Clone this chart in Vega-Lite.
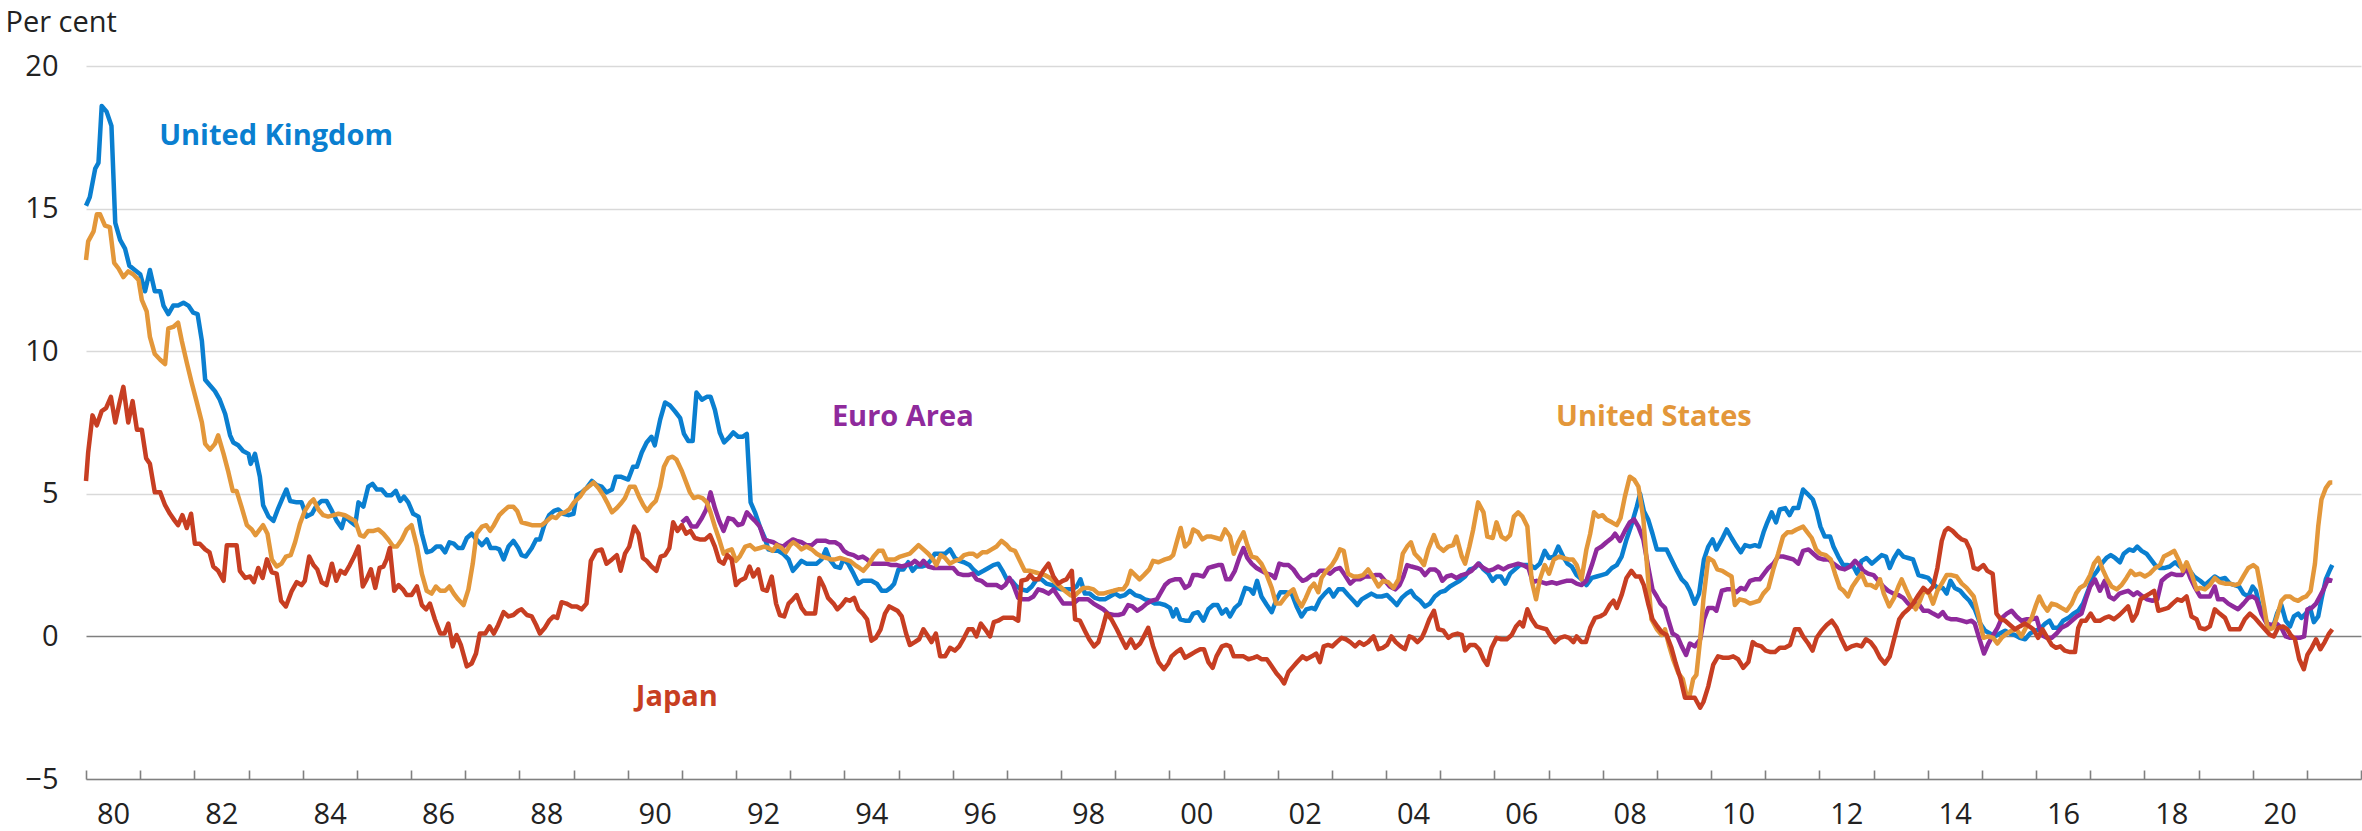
{
  "$schema": "https://vega.github.io/schema/vega-lite/v6.json",
  "width": 2275,
  "height": 713,
  "autosize": "none",
  "padding": {"left": 86, "top": 66, "right": 1, "bottom": 52},
  "background": "white",
  "config": {"view": {"stroke": null}, "font": "Open Sans"},
  "datasets": {
    "uk": [
      {"t":1980.0,"v":15.1},{"t":1980.07,"v":15.4},{"t":1980.17,"v":16.4},{"t":1980.23,"v":16.6},{"t":1980.29,"v":18.6},{"t":1980.38,"v":18.4},{"t":1980.47,"v":17.9},{"t":1980.54,"v":14.5},{"t":1980.63,"v":13.9},{"t":1980.72,"v":13.6},{"t":1980.8,"v":13.0},{"t":1980.9,"v":12.85},
      {"t":1981.0,"v":12.7},{"t":1981.09,"v":12.1},{"t":1981.18,"v":12.85},{"t":1981.27,"v":12.1},{"t":1981.37,"v":12.1},{"t":1981.43,"v":11.6},{"t":1981.52,"v":11.3},{"t":1981.61,"v":11.6},{"t":1981.7,"v":11.6},{"t":1981.8,"v":11.7},{"t":1981.89,"v":11.6},{"t":1981.98,"v":11.35},
      {"t":1982.06,"v":11.3},{"t":1982.14,"v":10.35},{"t":1982.2,"v":9.0},{"t":1982.29,"v":8.8},{"t":1982.38,"v":8.6},{"t":1982.47,"v":8.3},{"t":1982.57,"v":7.8},{"t":1982.66,"v":7.05},{"t":1982.72,"v":6.8},{"t":1982.81,"v":6.7},{"t":1982.9,"v":6.5},
      {"t":1983.0,"v":6.4},{"t":1983.04,"v":6.05},{"t":1983.12,"v":6.4},{"t":1983.21,"v":5.6},{"t":1983.27,"v":4.6},{"t":1983.37,"v":4.2},{"t":1983.46,"v":4.05},{"t":1983.55,"v":4.5},{"t":1983.64,"v":4.9},{"t":1983.7,"v":5.15},{"t":1983.77,"v":4.75},{"t":1983.89,"v":4.7},{"t":1983.98,"v":4.7},
      {"t":1984.07,"v":4.2},{"t":1984.17,"v":4.3},{"t":1984.26,"v":4.6},{"t":1984.35,"v":4.75},{"t":1984.44,"v":4.75},{"t":1984.54,"v":4.4},{"t":1984.63,"v":4.05},{"t":1984.72,"v":3.8},{"t":1984.78,"v":4.2},{"t":1984.87,"v":4.05},{"t":1984.97,"v":3.9},
      {"t":1985.03,"v":4.7},{"t":1985.12,"v":4.55},{"t":1985.21,"v":5.25},{"t":1985.29,"v":5.35},{"t":1985.37,"v":5.15},{"t":1985.46,"v":5.15},{"t":1985.55,"v":4.95},{"t":1985.64,"v":4.95},{"t":1985.72,"v":5.1},{"t":1985.8,"v":4.75},{"t":1985.87,"v":4.9},{"t":1985.95,"v":4.7},
      {"t":1986.04,"v":4.3},{"t":1986.14,"v":4.2},{"t":1986.2,"v":3.6},{"t":1986.29,"v":2.95},{"t":1986.38,"v":3.0},{"t":1986.47,"v":3.15},{"t":1986.55,"v":3.15},{"t":1986.63,"v":2.95},{"t":1986.71,"v":3.3},{"t":1986.79,"v":3.25},{"t":1986.87,"v":3.1},{"t":1986.95,"v":3.1},
      {"t":1987.03,"v":3.45},{"t":1987.12,"v":3.6},{"t":1987.21,"v":3.4},{"t":1987.31,"v":3.2},{"t":1987.4,"v":3.4},{"t":1987.47,"v":3.1},{"t":1987.57,"v":3.1},{"t":1987.63,"v":3.05},{"t":1987.71,"v":2.7},{"t":1987.8,"v":3.15},{"t":1987.89,"v":3.35},{"t":1987.98,"v":3.1},
      {"t":1988.04,"v":2.85},{"t":1988.12,"v":2.8},{"t":1988.23,"v":3.1},{"t":1988.31,"v":3.4},{"t":1988.38,"v":3.4},{"t":1988.46,"v":3.9},{"t":1988.55,"v":4.25},{"t":1988.64,"v":4.4},{"t":1988.72,"v":4.45},{"t":1988.81,"v":4.3},{"t":1988.91,"v":4.25},
      {"t":1989.0,"v":4.3},{"t":1989.06,"v":4.95},{"t":1989.15,"v":5.05},{"t":1989.24,"v":5.2},{"t":1989.34,"v":5.45},{"t":1989.43,"v":5.3},{"t":1989.52,"v":5.25},{"t":1989.61,"v":5.05},{"t":1989.71,"v":5.15},{"t":1989.78,"v":5.6},{"t":1989.87,"v":5.6},
      {"t":1990.01,"v":5.5},{"t":1990.1,"v":5.95},{"t":1990.17,"v":5.95},{"t":1990.26,"v":6.45},{"t":1990.35,"v":6.8},{"t":1990.44,"v":7.0},{"t":1990.5,"v":6.7},{"t":1990.6,"v":7.6},{"t":1990.69,"v":8.2},{"t":1990.78,"v":8.1},{"t":1990.87,"v":7.9},{"t":1990.97,"v":7.65},
      {"t":1991.04,"v":7.1},{"t":1991.12,"v":6.85},{"t":1991.2,"v":6.85},{"t":1991.27,"v":8.55},{"t":1991.37,"v":8.3},{"t":1991.46,"v":8.4},{"t":1991.53,"v":8.4},{"t":1991.61,"v":7.95},{"t":1991.7,"v":7.15},{"t":1991.78,"v":6.8},{"t":1991.86,"v":6.95},{"t":1991.95,"v":7.15},
      {"t":1992.04,"v":7.0},{"t":1992.12,"v":7.0},{"t":1992.2,"v":7.1},{"t":1992.27,"v":4.7},{"t":1992.35,"v":4.35},{"t":1992.44,"v":3.85},{"t":1992.52,"v":3.5},{"t":1992.6,"v":3.05},{"t":1992.69,"v":3.0},{"t":1992.78,"v":3.0},{"t":1992.87,"v":2.9},{"t":1992.97,"v":2.7},
      {"t":1993.05,"v":2.3},{"t":1993.12,"v":2.45},{"t":1993.21,"v":2.65},{"t":1993.3,"v":2.55},{"t":1993.4,"v":2.55},{"t":1993.49,"v":2.55},{"t":1993.58,"v":2.7},{"t":1993.66,"v":3.05},{"t":1993.73,"v":2.7},{"t":1993.83,"v":2.45},{"t":1993.92,"v":2.4},{"t":1993.98,"v":2.7},
      {"t":1994.07,"v":2.55},{"t":1994.17,"v":2.2},{"t":1994.26,"v":1.85},{"t":1994.34,"v":1.95},{"t":1994.42,"v":1.95},{"t":1994.5,"v":1.95},{"t":1994.6,"v":1.85},{"t":1994.69,"v":1.6},{"t":1994.78,"v":1.6},{"t":1994.85,"v":1.7},{"t":1994.92,"v":1.85},
      {"t":1995.0,"v":2.35},{"t":1995.09,"v":2.35},{"t":1995.18,"v":2.6},{"t":1995.26,"v":2.3},{"t":1995.33,"v":2.45},{"t":1995.43,"v":2.45},{"t":1995.52,"v":2.5},{"t":1995.61,"v":2.7},{"t":1995.67,"v":2.9},{"t":1995.77,"v":2.9},{"t":1995.86,"v":2.9},{"t":1995.95,"v":3.05},
      {"t":1996.04,"v":2.75},{"t":1996.12,"v":2.65},{"t":1996.21,"v":2.6},{"t":1996.31,"v":2.5},{"t":1996.38,"v":2.35},{"t":1996.47,"v":2.2},{"t":1996.57,"v":2.3},{"t":1996.66,"v":2.4},{"t":1996.75,"v":2.5},{"t":1996.84,"v":2.55},{"t":1996.92,"v":2.3},
      {"t":1997.0,"v":2.0},{"t":1997.09,"v":1.95},{"t":1997.18,"v":1.75},{"t":1997.27,"v":1.65},{"t":1997.37,"v":1.6},{"t":1997.46,"v":1.75},{"t":1997.55,"v":2.0},{"t":1997.64,"v":2.0},{"t":1997.73,"v":1.85},{"t":1997.83,"v":1.8},{"t":1997.92,"v":1.7},
      {"t":1998.01,"v":1.65},{"t":1998.1,"v":1.65},{"t":1998.2,"v":1.65},{"t":1998.29,"v":1.75},{"t":1998.36,"v":2.0},{"t":1998.44,"v":1.5},{"t":1998.53,"v":1.5},{"t":1998.63,"v":1.35},{"t":1998.72,"v":1.3},{"t":1998.81,"v":1.3},{"t":1998.9,"v":1.4},
      {"t":1999.0,"v":1.5},{"t":1999.09,"v":1.4},{"t":1999.18,"v":1.45},{"t":1999.27,"v":1.6},{"t":1999.37,"v":1.45},{"t":1999.46,"v":1.4},{"t":1999.55,"v":1.3},{"t":1999.64,"v":1.25},{"t":1999.73,"v":1.15},{"t":1999.83,"v":1.15},{"t":1999.92,"v":1.1},
      {"t":2000.01,"v":1.0},{"t":2000.07,"v":0.7},{"t":2000.13,"v":0.95},{"t":2000.2,"v":0.6},{"t":2000.29,"v":0.55},{"t":2000.37,"v":0.55},{"t":2000.44,"v":0.8},{"t":2000.53,"v":0.85},{"t":2000.63,"v":0.55},{"t":2000.72,"v":0.95},{"t":2000.81,"v":1.1},{"t":2000.89,"v":1.1},{"t":2000.97,"v":0.8},
      {"t":2001.05,"v":0.95},{"t":2001.12,"v":0.7},{"t":2001.21,"v":1.0},{"t":2001.3,"v":1.15},{"t":2001.4,"v":1.7},{"t":2001.49,"v":1.65},{"t":2001.55,"v":1.5},{"t":2001.62,"v":1.95},{"t":2001.7,"v":1.4},{"t":2001.8,"v":1.1},{"t":2001.89,"v":0.85},{"t":2001.98,"v":1.3},
      {"t":2002.05,"v":1.55},{"t":2002.15,"v":1.55},{"t":2002.26,"v":1.5},{"t":2002.35,"v":1.05},{"t":2002.44,"v":0.7},{"t":2002.53,"v":0.95},{"t":2002.63,"v":1.0},{"t":2002.69,"v":0.95},{"t":2002.78,"v":1.3},{"t":2002.87,"v":1.5},{"t":2002.95,"v":1.65},
      {"t":2003.03,"v":1.4},{"t":2003.12,"v":1.65},{"t":2003.21,"v":1.65},{"t":2003.3,"v":1.45},{"t":2003.4,"v":1.25},{"t":2003.47,"v":1.1},{"t":2003.55,"v":1.3},{"t":2003.64,"v":1.4},{"t":2003.73,"v":1.5},{"t":2003.83,"v":1.4},{"t":2003.92,"v":1.4},
      {"t":2004.02,"v":1.45},{"t":2004.1,"v":1.3},{"t":2004.2,"v":1.1},{"t":2004.29,"v":1.35},{"t":2004.38,"v":1.5},{"t":2004.46,"v":1.6},{"t":2004.53,"v":1.4},{"t":2004.63,"v":1.25},{"t":2004.72,"v":1.05},{"t":2004.81,"v":1.15},{"t":2004.9,"v":1.4},
      {"t":2005.0,"v":1.55},{"t":2005.09,"v":1.6},{"t":2005.18,"v":1.75},{"t":2005.27,"v":1.85},{"t":2005.36,"v":1.95},{"t":2005.46,"v":2.1},{"t":2005.55,"v":2.35},{"t":2005.64,"v":2.4},{"t":2005.72,"v":2.55},{"t":2005.8,"v":2.35},{"t":2005.89,"v":2.2},{"t":2005.97,"v":1.95},
      {"t":2006.04,"v":2.1},{"t":2006.12,"v":2.1},{"t":2006.2,"v":1.85},{"t":2006.29,"v":2.2},{"t":2006.38,"v":2.35},{"t":2006.47,"v":2.5},{"t":2006.57,"v":2.5},{"t":2006.66,"v":2.5},{"t":2006.75,"v":2.4},{"t":2006.84,"v":2.55},{"t":2006.93,"v":3.0},
      {"t":2007.01,"v":2.75},{"t":2007.1,"v":2.8},{"t":2007.18,"v":3.15},{"t":2007.27,"v":2.8},{"t":2007.35,"v":2.55},{"t":2007.43,"v":2.45},{"t":2007.52,"v":2.15},{"t":2007.61,"v":2.0},{"t":2007.7,"v":1.8},{"t":2007.8,"v":2.05},{"t":2007.89,"v":2.1},{"t":2007.98,"v":2.15},
      {"t":2008.07,"v":2.2},{"t":2008.17,"v":2.4},{"t":2008.26,"v":2.5},{"t":2008.35,"v":2.8},{"t":2008.44,"v":3.4},{"t":2008.53,"v":3.9},{"t":2008.63,"v":4.55},{"t":2008.69,"v":5.0},{"t":2008.76,"v":4.4},{"t":2008.84,"v":4.1},{"t":2008.92,"v":3.6},
      {"t":2009.0,"v":3.05},{"t":2009.09,"v":3.05},{"t":2009.18,"v":3.05},{"t":2009.27,"v":2.7},{"t":2009.36,"v":2.35},{"t":2009.46,"v":2.0},{"t":2009.54,"v":1.85},{"t":2009.61,"v":1.6},{"t":2009.7,"v":1.15},{"t":2009.78,"v":1.5},{"t":2009.87,"v":2.7},{"t":2009.95,"v":3.15},
      {"t":2010.03,"v":3.4},{"t":2010.1,"v":3.05},{"t":2010.2,"v":3.4},{"t":2010.29,"v":3.75},{"t":2010.38,"v":3.45},{"t":2010.46,"v":3.2},{"t":2010.55,"v":2.95},{"t":2010.63,"v":3.2},{"t":2010.72,"v":3.15},{"t":2010.81,"v":3.2},{"t":2010.89,"v":3.15},{"t":2010.97,"v":3.65},
      {"t":2011.04,"v":4.0},{"t":2011.12,"v":4.35},{"t":2011.2,"v":4.0},{"t":2011.27,"v":4.45},{"t":2011.37,"v":4.5},{"t":2011.45,"v":4.25},{"t":2011.52,"v":4.5},{"t":2011.61,"v":4.5},{"t":2011.7,"v":5.15},{"t":2011.78,"v":5.0},{"t":2011.88,"v":4.8},{"t":2011.95,"v":4.4},
      {"t":2012.02,"v":3.85},{"t":2012.1,"v":3.5},{"t":2012.2,"v":3.5},{"t":2012.26,"v":3.15},{"t":2012.35,"v":2.8},{"t":2012.44,"v":2.5},{"t":2012.53,"v":2.5},{"t":2012.63,"v":2.45},{"t":2012.7,"v":2.2},{"t":2012.78,"v":2.65},{"t":2012.87,"v":2.75},{"t":2012.97,"v":2.55},
      {"t":2013.06,"v":2.7},{"t":2013.15,"v":2.85},{"t":2013.23,"v":2.8},{"t":2013.3,"v":2.4},{"t":2013.38,"v":2.75},{"t":2013.46,"v":3.0},{"t":2013.55,"v":2.8},{"t":2013.64,"v":2.75},{"t":2013.73,"v":2.7},{"t":2013.83,"v":2.15},{"t":2013.92,"v":2.1},
      {"t":2014.01,"v":2.05},{"t":2014.1,"v":1.85},{"t":2014.18,"v":1.7},{"t":2014.28,"v":1.7},{"t":2014.35,"v":1.5},{"t":2014.42,"v":1.95},{"t":2014.5,"v":1.7},{"t":2014.6,"v":1.6},{"t":2014.69,"v":1.4},{"t":2014.77,"v":1.25},{"t":2014.87,"v":0.95},{"t":2014.97,"v":0.45},
      {"t":2015.06,"v":0.2},{"t":2015.15,"v":0.1},{"t":2015.24,"v":0.0},{"t":2015.33,"v":0.1},{"t":2015.43,"v":0.2},{"t":2015.52,"v":0.1},{"t":2015.61,"v":0.05},{"t":2015.7,"v":-0.05},{"t":2015.8,"v":-0.1},{"t":2015.89,"v":0.1},{"t":2015.98,"v":0.2},
      {"t":2016.07,"v":0.25},{"t":2016.17,"v":0.45},{"t":2016.25,"v":0.55},{"t":2016.32,"v":0.3},{"t":2016.41,"v":0.3},{"t":2016.5,"v":0.55},{"t":2016.6,"v":0.65},{"t":2016.69,"v":0.8},{"t":2016.78,"v":0.9},{"t":2016.87,"v":1.15},{"t":2016.97,"v":1.65},
      {"t":2017.05,"v":2.1},{"t":2017.13,"v":2.3},{"t":2017.21,"v":2.55},{"t":2017.3,"v":2.75},{"t":2017.38,"v":2.85},{"t":2017.46,"v":2.75},{"t":2017.55,"v":2.6},{"t":2017.62,"v":2.9},{"t":2017.72,"v":3.05},{"t":2017.8,"v":3.0},{"t":2017.87,"v":3.15},{"t":2017.95,"v":3.0},
      {"t":2018.04,"v":2.9},{"t":2018.12,"v":2.7},{"t":2018.2,"v":2.5},{"t":2018.29,"v":2.4},{"t":2018.38,"v":2.4},{"t":2018.47,"v":2.45},{"t":2018.57,"v":2.6},{"t":2018.66,"v":2.45},{"t":2018.75,"v":2.4},{"t":2018.84,"v":2.3},{"t":2018.92,"v":2.1},
      {"t":2019.03,"v":1.95},{"t":2019.12,"v":1.8},{"t":2019.21,"v":1.95},{"t":2019.3,"v":2.1},{"t":2019.39,"v":2.0},{"t":2019.49,"v":2.05},{"t":2019.58,"v":1.85},{"t":2019.67,"v":1.8},{"t":2019.75,"v":1.75},{"t":2019.83,"v":1.5},{"t":2019.92,"v":1.4},
      {"t":2020.0,"v":1.75},{"t":2020.06,"v":1.6},{"t":2020.13,"v":1.05},{"t":2020.21,"v":0.7},{"t":2020.29,"v":0.4},{"t":2020.38,"v":0.35},{"t":2020.45,"v":0.8},{"t":2020.53,"v":1.1},{"t":2020.61,"v":0.55},{"t":2020.69,"v":0.35},{"t":2020.76,"v":0.7},{"t":2020.84,"v":0.8},{"t":2020.9,"v":0.65},{"t":2020.98,"v":0.8},
      {"t":2021.06,"v":1.0},{"t":2021.13,"v":0.5},{"t":2021.21,"v":0.7},{"t":2021.27,"v":1.3},{"t":2021.35,"v":2.0},{"t":2021.43,"v":2.35},{"t":2021.47,"v":2.5}
    ],
    "ea": [
      {"t":1991.0,"v":4.0},{"t":1991.09,"v":4.15},{"t":1991.18,"v":3.85},{"t":1991.27,"v":3.85},{"t":1991.37,"v":4.15},{"t":1991.45,"v":4.45},{"t":1991.53,"v":5.05},{"t":1991.61,"v":4.5},{"t":1991.69,"v":4.05},{"t":1991.77,"v":3.7},{"t":1991.86,"v":4.15},{"t":1991.95,"v":4.1},
      {"t":1992.04,"v":3.9},{"t":1992.12,"v":3.95},{"t":1992.2,"v":4.35},{"t":1992.27,"v":4.2},{"t":1992.35,"v":4.05},{"t":1992.44,"v":3.85},{"t":1992.52,"v":3.4},{"t":1992.6,"v":3.35},{"t":1992.69,"v":3.3},{"t":1992.78,"v":3.2},{"t":1992.87,"v":3.15},{"t":1992.97,"v":3.3},
      {"t":1993.05,"v":3.4},{"t":1993.12,"v":3.35},{"t":1993.21,"v":3.3},{"t":1993.3,"v":3.2},{"t":1993.4,"v":3.2},{"t":1993.49,"v":3.35},{"t":1993.58,"v":3.35},{"t":1993.66,"v":3.35},{"t":1993.73,"v":3.3},{"t":1993.83,"v":3.3},{"t":1993.92,"v":3.2},{"t":1993.99,"v":3.0},
      {"t":1994.07,"v":2.9},{"t":1994.17,"v":2.85},{"t":1994.26,"v":2.75},{"t":1994.34,"v":2.8},{"t":1994.42,"v":2.7},{"t":1994.5,"v":2.55},{"t":1994.6,"v":2.55},{"t":1994.69,"v":2.55},{"t":1994.78,"v":2.55},{"t":1994.87,"v":2.5},{"t":1994.97,"v":2.5},
      {"t":1995.06,"v":2.45},{"t":1995.15,"v":2.5},{"t":1995.24,"v":2.55},{"t":1995.3,"v":2.65},{"t":1995.4,"v":2.5},{"t":1995.46,"v":2.65},{"t":1995.55,"v":2.45},{"t":1995.64,"v":2.4},{"t":1995.73,"v":2.4},{"t":1995.83,"v":2.4},{"t":1995.92,"v":2.4},
      {"t":1996.01,"v":2.4},{"t":1996.1,"v":2.2},{"t":1996.2,"v":2.15},{"t":1996.29,"v":2.15},{"t":1996.37,"v":2.2},{"t":1996.44,"v":2.0},{"t":1996.53,"v":1.95},{"t":1996.63,"v":1.8},{"t":1996.72,"v":1.8},{"t":1996.81,"v":1.8},{"t":1996.9,"v":1.7},{"t":1996.97,"v":1.8},
      {"t":1997.05,"v":2.05},{"t":1997.12,"v":1.8},{"t":1997.21,"v":1.35},{"t":1997.3,"v":1.3},{"t":1997.4,"v":1.3},{"t":1997.49,"v":1.4},{"t":1997.58,"v":1.65},{"t":1997.67,"v":1.6},{"t":1997.77,"v":1.5},{"t":1997.86,"v":1.65},{"t":1997.95,"v":1.4},
      {"t":1998.04,"v":1.15},{"t":1998.13,"v":1.15},{"t":1998.23,"v":1.15},{"t":1998.32,"v":1.3},{"t":1998.41,"v":1.3},{"t":1998.5,"v":1.3},{"t":1998.6,"v":1.15},{"t":1998.69,"v":1.05},{"t":1998.78,"v":0.95},{"t":1998.87,"v":0.8},{"t":1998.97,"v":0.75},
      {"t":1999.06,"v":0.75},{"t":1999.15,"v":0.8},{"t":1999.24,"v":1.1},{"t":1999.32,"v":1.05},{"t":1999.41,"v":0.9},{"t":1999.49,"v":1.0},{"t":1999.58,"v":1.15},{"t":1999.67,"v":1.25},{"t":1999.77,"v":1.3},{"t":1999.83,"v":1.5},{"t":1999.92,"v":1.8},
      {"t":2000.01,"v":1.95},{"t":2000.1,"v":2.0},{"t":2000.2,"v":2.0},{"t":2000.29,"v":1.7},{"t":2000.37,"v":1.8},{"t":2000.44,"v":2.15},{"t":2000.53,"v":2.15},{"t":2000.63,"v":2.1},{"t":2000.72,"v":2.4},{"t":2000.81,"v":2.45},{"t":2000.9,"v":2.5},{"t":2000.97,"v":2.5},
      {"t":2001.05,"v":2.0},{"t":2001.12,"v":2.0},{"t":2001.21,"v":2.3},{"t":2001.3,"v":2.8},{"t":2001.37,"v":3.1},{"t":2001.44,"v":2.75},{"t":2001.52,"v":2.55},{"t":2001.61,"v":2.4},{"t":2001.7,"v":2.3},{"t":2001.8,"v":2.2},{"t":2001.89,"v":2.15},{"t":2001.95,"v":2.05},
      {"t":2002.03,"v":2.55},{"t":2002.12,"v":2.5},{"t":2002.2,"v":2.5},{"t":2002.29,"v":2.35},{"t":2002.38,"v":2.1},{"t":2002.46,"v":1.95},{"t":2002.53,"v":2.0},{"t":2002.63,"v":2.15},{"t":2002.71,"v":2.15},{"t":2002.78,"v":2.3},{"t":2002.87,"v":2.3},{"t":2002.97,"v":2.2},
      {"t":2003.06,"v":2.35},{"t":2003.15,"v":2.4},{"t":2003.24,"v":2.15},{"t":2003.34,"v":1.85},{"t":2003.43,"v":2.0},{"t":2003.52,"v":2.0},{"t":2003.61,"v":2.1},{"t":2003.7,"v":2.1},{"t":2003.8,"v":2.15},{"t":2003.89,"v":2.15},{"t":2003.98,"v":1.95},
      {"t":2004.07,"v":1.75},{"t":2004.17,"v":1.65},{"t":2004.25,"v":1.8},{"t":2004.32,"v":2.1},{"t":2004.39,"v":2.5},{"t":2004.47,"v":2.45},{"t":2004.57,"v":2.4},{"t":2004.64,"v":2.35},{"t":2004.72,"v":2.15},{"t":2004.81,"v":2.35},{"t":2004.9,"v":2.35},{"t":2004.97,"v":2.25},
      {"t":2005.04,"v":1.95},{"t":2005.12,"v":2.1},{"t":2005.21,"v":2.15},{"t":2005.3,"v":2.05},{"t":2005.4,"v":2.15},{"t":2005.49,"v":2.2},{"t":2005.58,"v":2.3},{"t":2005.7,"v":2.55},{"t":2005.8,"v":2.4},{"t":2005.89,"v":2.3},{"t":2005.98,"v":2.35},
      {"t":2006.07,"v":2.45},{"t":2006.17,"v":2.35},{"t":2006.26,"v":2.45},{"t":2006.35,"v":2.5},{"t":2006.44,"v":2.55},{"t":2006.53,"v":2.5},{"t":2006.63,"v":2.4},{"t":2006.71,"v":1.9},{"t":2006.78,"v":1.95},{"t":2006.87,"v":1.9},{"t":2006.96,"v":1.85},
      {"t":2007.06,"v":1.9},{"t":2007.15,"v":1.85},{"t":2007.24,"v":1.9},{"t":2007.33,"v":1.95},{"t":2007.43,"v":1.95},{"t":2007.52,"v":1.85},{"t":2007.61,"v":1.8},{"t":2007.7,"v":1.95},{"t":2007.8,"v":2.5},{"t":2007.89,"v":3.05},{"t":2007.98,"v":3.15},
      {"t":2008.07,"v":3.3},{"t":2008.17,"v":3.45},{"t":2008.23,"v":3.6},{"t":2008.32,"v":3.35},{"t":2008.41,"v":3.7},{"t":2008.5,"v":4.0},{"t":2008.58,"v":4.1},{"t":2008.66,"v":3.85},{"t":2008.75,"v":3.4},{"t":2008.84,"v":2.45},{"t":2008.92,"v":1.65},
      {"t":2009.0,"v":1.4},{"t":2009.07,"v":1.15},{"t":2009.15,"v":1.0},{"t":2009.21,"v":0.6},{"t":2009.29,"v":0.1},{"t":2009.38,"v":0.0},{"t":2009.46,"v":-0.35},{"t":2009.54,"v":-0.65},{"t":2009.61,"v":-0.25},{"t":2009.7,"v":-0.35},{"t":2009.8,"v":-0.1},{"t":2009.87,"v":0.6},{"t":2009.95,"v":1.0},
      {"t":2010.04,"v":1.0},{"t":2010.1,"v":0.9},{"t":2010.2,"v":1.6},{"t":2010.29,"v":1.65},{"t":2010.38,"v":1.65},{"t":2010.47,"v":1.55},{"t":2010.55,"v":1.7},{"t":2010.63,"v":1.65},{"t":2010.72,"v":1.95},{"t":2010.81,"v":2.0},{"t":2010.9,"v":2.0},{"t":2010.98,"v":2.2},
      {"t":2011.06,"v":2.4},{"t":2011.15,"v":2.55},{"t":2011.24,"v":2.8},{"t":2011.33,"v":2.8},{"t":2011.43,"v":2.75},{"t":2011.52,"v":2.7},{"t":2011.61,"v":2.55},{"t":2011.7,"v":3.0},{"t":2011.8,"v":3.05},{"t":2011.89,"v":2.9},{"t":2011.98,"v":2.75},
      {"t":2012.07,"v":2.7},{"t":2012.17,"v":2.7},{"t":2012.26,"v":2.55},{"t":2012.37,"v":2.4},{"t":2012.47,"v":2.35},{"t":2012.57,"v":2.45},{"t":2012.66,"v":2.65},{"t":2012.74,"v":2.5},{"t":2012.81,"v":2.3},{"t":2012.9,"v":2.2},
      {"t":2013.0,"v":2.15},{"t":2013.09,"v":1.95},{"t":2013.18,"v":1.75},{"t":2013.27,"v":1.6},{"t":2013.37,"v":1.5},{"t":2013.46,"v":1.45},{"t":2013.55,"v":1.35},{"t":2013.64,"v":1.15},{"t":2013.73,"v":1.05},{"t":2013.83,"v":1.15},{"t":2013.92,"v":0.9},
      {"t":2014.01,"v":0.9},{"t":2014.1,"v":0.8},{"t":2014.2,"v":0.7},{"t":2014.28,"v":0.85},{"t":2014.35,"v":0.65},{"t":2014.44,"v":0.6},{"t":2014.54,"v":0.6},{"t":2014.63,"v":0.55},{"t":2014.72,"v":0.5},{"t":2014.81,"v":0.55},{"t":2014.87,"v":0.45},{"t":2014.95,"v":-0.05},
      {"t":2015.04,"v":-0.6},{"t":2015.12,"v":-0.25},{"t":2015.21,"v":0.05},{"t":2015.29,"v":0.3},{"t":2015.37,"v":0.65},{"t":2015.46,"v":0.8},{"t":2015.55,"v":0.9},{"t":2015.64,"v":0.7},{"t":2015.73,"v":0.55},{"t":2015.83,"v":0.6},{"t":2015.92,"v":0.6},
      {"t":2016.01,"v":0.65},{"t":2016.1,"v":0.05},{"t":2016.2,"v":-0.05},{"t":2016.29,"v":-0.05},{"t":2016.38,"v":0.1},{"t":2016.47,"v":0.3},{"t":2016.57,"v":0.4},{"t":2016.66,"v":0.55},{"t":2016.75,"v":0.7},{"t":2016.84,"v":0.8},{"t":2016.92,"v":1.3},
      {"t":2017.0,"v":1.75},{"t":2017.09,"v":2.0},{"t":2017.18,"v":1.6},{"t":2017.27,"v":1.95},{"t":2017.35,"v":1.4},{"t":2017.44,"v":1.3},{"t":2017.54,"v":1.5},{"t":2017.62,"v":1.55},{"t":2017.7,"v":1.6},{"t":2017.8,"v":1.45},{"t":2017.87,"v":1.55},{"t":2017.97,"v":1.4},
      {"t":2018.05,"v":1.3},{"t":2018.15,"v":1.25},{"t":2018.24,"v":1.3},{"t":2018.32,"v":1.95},{"t":2018.41,"v":2.1},{"t":2018.5,"v":2.2},{"t":2018.6,"v":2.15},{"t":2018.69,"v":2.15},{"t":2018.78,"v":2.4},{"t":2018.85,"v":2.05},{"t":2018.94,"v":1.7},
      {"t":2019.03,"v":1.4},{"t":2019.12,"v":1.4},{"t":2019.21,"v":1.4},{"t":2019.3,"v":1.75},{"t":2019.36,"v":1.3},{"t":2019.46,"v":1.3},{"t":2019.55,"v":1.15},{"t":2019.64,"v":1.05},{"t":2019.73,"v":0.95},{"t":2019.83,"v":1.15},{"t":2019.92,"v":1.35},
      {"t":2020.0,"v":1.4},{"t":2020.07,"v":1.3},{"t":2020.16,"v":0.8},{"t":2020.26,"v":0.45},{"t":2020.35,"v":0.4},{"t":2020.44,"v":0.45},{"t":2020.53,"v":0.3},{"t":2020.61,"v":0.0},{"t":2020.69,"v":-0.05},{"t":2020.78,"v":-0.05},{"t":2020.87,"v":-0.05},{"t":2020.95,"v":0.0},
      {"t":2021.01,"v":0.95},{"t":2021.09,"v":1.0},{"t":2021.17,"v":1.15},{"t":2021.24,"v":1.4},{"t":2021.31,"v":1.65},{"t":2021.39,"v":2.0},{"t":2021.47,"v":1.95}
    ],
    "us": [
      {"t":1980.0,"v":13.2},{"t":1980.04,"v":13.85},{"t":1980.14,"v":14.2},{"t":1980.2,"v":14.8},{"t":1980.26,"v":14.8},{"t":1980.35,"v":14.4},{"t":1980.44,"v":14.35},{"t":1980.52,"v":13.1},{"t":1980.6,"v":12.9},{"t":1980.69,"v":12.6},{"t":1980.78,"v":12.8},{"t":1980.87,"v":12.7},{"t":1980.97,"v":12.5},
      {"t":1981.03,"v":11.8},{"t":1981.12,"v":11.4},{"t":1981.18,"v":10.5},{"t":1981.27,"v":9.9},{"t":1981.37,"v":9.7},{"t":1981.46,"v":9.55},{"t":1981.52,"v":10.8},{"t":1981.61,"v":10.85},{"t":1981.7,"v":11.0},{"t":1981.77,"v":10.35},{"t":1981.86,"v":9.6},{"t":1981.95,"v":8.9},
      {"t":1982.04,"v":8.25},{"t":1982.14,"v":7.5},{"t":1982.2,"v":6.75},{"t":1982.29,"v":6.55},{"t":1982.38,"v":6.75},{"t":1982.44,"v":7.05},{"t":1982.54,"v":6.4},{"t":1982.63,"v":5.75},{"t":1982.71,"v":5.1},{"t":1982.78,"v":5.1},{"t":1982.87,"v":4.55},{"t":1982.97,"v":3.9},
      {"t":1983.06,"v":3.75},{"t":1983.13,"v":3.55},{"t":1983.21,"v":3.75},{"t":1983.27,"v":3.9},{"t":1983.35,"v":3.6},{"t":1983.43,"v":2.7},{"t":1983.52,"v":2.45},{"t":1983.61,"v":2.55},{"t":1983.69,"v":2.8},{"t":1983.78,"v":2.85},{"t":1983.86,"v":3.3},{"t":1983.95,"v":3.95},
      {"t":1984.04,"v":4.4},{"t":1984.14,"v":4.7},{"t":1984.2,"v":4.8},{"t":1984.29,"v":4.45},{"t":1984.38,"v":4.25},{"t":1984.47,"v":4.2},{"t":1984.57,"v":4.25},{"t":1984.66,"v":4.3},{"t":1984.78,"v":4.25},{"t":1984.87,"v":4.15},{"t":1984.97,"v":4.05},
      {"t":1985.06,"v":3.55},{"t":1985.13,"v":3.5},{"t":1985.21,"v":3.7},{"t":1985.31,"v":3.7},{"t":1985.4,"v":3.75},{"t":1985.49,"v":3.6},{"t":1985.58,"v":3.4},{"t":1985.67,"v":3.15},{"t":1985.74,"v":3.15},{"t":1985.83,"v":3.4},{"t":1985.92,"v":3.75},
      {"t":1986.01,"v":3.9},{"t":1986.11,"v":3.15},{"t":1986.2,"v":2.2},{"t":1986.29,"v":1.6},{"t":1986.38,"v":1.5},{"t":1986.46,"v":1.75},{"t":1986.54,"v":1.6},{"t":1986.63,"v":1.6},{"t":1986.71,"v":1.75},{"t":1986.79,"v":1.5},{"t":1986.87,"v":1.3},{"t":1986.97,"v":1.1},
      {"t":1987.06,"v":1.65},{"t":1987.14,"v":2.55},{"t":1987.21,"v":3.6},{"t":1987.31,"v":3.85},{"t":1987.39,"v":3.9},{"t":1987.46,"v":3.7},{"t":1987.53,"v":3.9},{"t":1987.63,"v":4.25},{"t":1987.71,"v":4.4},{"t":1987.8,"v":4.55},{"t":1987.89,"v":4.55},{"t":1987.96,"v":4.4},
      {"t":1988.04,"v":4.0},{"t":1988.14,"v":3.95},{"t":1988.23,"v":3.9},{"t":1988.32,"v":3.9},{"t":1988.41,"v":3.9},{"t":1988.51,"v":4.05},{"t":1988.6,"v":4.2},{"t":1988.68,"v":4.15},{"t":1988.75,"v":4.3},{"t":1988.84,"v":4.35},{"t":1988.92,"v":4.45},
      {"t":1989.01,"v":4.7},{"t":1989.12,"v":4.9},{"t":1989.21,"v":5.15},{"t":1989.31,"v":5.3},{"t":1989.37,"v":5.4},{"t":1989.46,"v":5.2},{"t":1989.55,"v":4.95},{"t":1989.62,"v":4.7},{"t":1989.71,"v":4.35},{"t":1989.8,"v":4.5},{"t":1989.87,"v":4.65},{"t":1989.95,"v":4.85},
      {"t":1990.04,"v":5.25},{"t":1990.13,"v":5.25},{"t":1990.21,"v":4.9},{"t":1990.29,"v":4.6},{"t":1990.36,"v":4.4},{"t":1990.44,"v":4.6},{"t":1990.52,"v":4.75},{"t":1990.6,"v":5.25},{"t":1990.67,"v":5.95},{"t":1990.75,"v":6.25},{"t":1990.83,"v":6.3},{"t":1990.9,"v":6.2},
      {"t":1991.0,"v":5.8},{"t":1991.08,"v":5.4},{"t":1991.15,"v":5.05},{"t":1991.22,"v":4.85},{"t":1991.3,"v":4.9},{"t":1991.38,"v":4.85},{"t":1991.46,"v":4.7},{"t":1991.53,"v":4.35},{"t":1991.61,"v":3.85},{"t":1991.69,"v":3.4},{"t":1991.77,"v":2.9},{"t":1991.84,"v":3.0},{"t":1991.92,"v":3.05},
      {"t":1992.0,"v":2.65},{"t":1992.07,"v":2.8},{"t":1992.17,"v":3.15},{"t":1992.26,"v":3.2},{"t":1992.35,"v":3.05},{"t":1992.44,"v":3.1},{"t":1992.52,"v":3.15},{"t":1992.6,"v":3.1},{"t":1992.68,"v":3.0},{"t":1992.75,"v":3.2},{"t":1992.84,"v":3.1},{"t":1992.92,"v":2.95},
      {"t":1993.0,"v":3.2},{"t":1993.06,"v":3.3},{"t":1993.13,"v":3.2},{"t":1993.21,"v":3.05},{"t":1993.3,"v":3.15},{"t":1993.4,"v":3.05},{"t":1993.49,"v":2.9},{"t":1993.58,"v":2.8},{"t":1993.67,"v":2.75},{"t":1993.75,"v":2.7},{"t":1993.83,"v":2.7},{"t":1993.92,"v":2.75},
      {"t":1994.01,"v":2.7},{"t":1994.1,"v":2.65},{"t":1994.2,"v":2.5},{"t":1994.28,"v":2.4},{"t":1994.35,"v":2.3},{"t":1994.44,"v":2.5},{"t":1994.54,"v":2.8},{"t":1994.63,"v":3.0},{"t":1994.71,"v":3.0},{"t":1994.78,"v":2.7},{"t":1994.87,"v":2.7},{"t":1994.93,"v":2.7},
      {"t":1995.03,"v":2.8},{"t":1995.12,"v":2.85},{"t":1995.21,"v":2.9},{"t":1995.29,"v":3.05},{"t":1995.37,"v":3.2},{"t":1995.46,"v":3.05},{"t":1995.55,"v":2.9},{"t":1995.64,"v":2.7},{"t":1995.7,"v":2.5},{"t":1995.78,"v":2.85},{"t":1995.86,"v":2.75},{"t":1995.95,"v":2.55},
      {"t":1996.04,"v":2.65},{"t":1996.13,"v":2.7},{"t":1996.21,"v":2.85},{"t":1996.31,"v":2.9},{"t":1996.38,"v":2.9},{"t":1996.45,"v":2.8},{"t":1996.55,"v":2.95},{"t":1996.63,"v":2.95},{"t":1996.72,"v":3.05},{"t":1996.81,"v":3.15},{"t":1996.9,"v":3.35},
      {"t":1997.0,"v":3.2},{"t":1997.07,"v":3.05},{"t":1997.15,"v":3.0},{"t":1997.24,"v":2.65},{"t":1997.33,"v":2.3},{"t":1997.43,"v":2.3},{"t":1997.52,"v":2.25},{"t":1997.61,"v":2.2},{"t":1997.7,"v":2.15},{"t":1997.8,"v":2.05},{"t":1997.89,"v":1.9},{"t":1997.98,"v":1.75},
      {"t":1998.07,"v":1.6},{"t":1998.17,"v":1.45},{"t":1998.24,"v":1.4},{"t":1998.32,"v":1.55},{"t":1998.41,"v":1.7},{"t":1998.5,"v":1.7},{"t":1998.6,"v":1.65},{"t":1998.69,"v":1.5},{"t":1998.78,"v":1.5},{"t":1998.87,"v":1.55},{"t":1998.97,"v":1.6},
      {"t":1999.06,"v":1.65},{"t":1999.15,"v":1.65},{"t":1999.22,"v":1.85},{"t":1999.29,"v":2.3},{"t":1999.37,"v":2.15},{"t":1999.45,"v":2.0},{"t":1999.53,"v":2.15},{"t":1999.63,"v":2.35},{"t":1999.7,"v":2.65},{"t":1999.8,"v":2.6},{"t":1999.92,"v":2.7},
      {"t":2000.01,"v":2.75},{"t":2000.07,"v":2.85},{"t":2000.15,"v":3.4},{"t":2000.21,"v":3.8},{"t":2000.29,"v":3.15},{"t":2000.37,"v":3.3},{"t":2000.44,"v":3.75},{"t":2000.53,"v":3.65},{"t":2000.61,"v":3.4},{"t":2000.69,"v":3.5},{"t":2000.78,"v":3.5},{"t":2000.87,"v":3.45},{"t":2000.95,"v":3.4},
      {"t":2001.03,"v":3.75},{"t":2001.12,"v":3.5},{"t":2001.19,"v":2.9},{"t":2001.27,"v":3.3},{"t":2001.37,"v":3.65},{"t":2001.44,"v":3.2},{"t":2001.52,"v":2.8},{"t":2001.61,"v":2.75},{"t":2001.7,"v":2.55},{"t":2001.8,"v":2.15},{"t":2001.89,"v":1.7},{"t":2001.97,"v":1.15},
      {"t":2002.05,"v":1.15},{"t":2002.13,"v":1.35},{"t":2002.22,"v":1.55},{"t":2002.29,"v":1.65},{"t":2002.36,"v":1.3},{"t":2002.44,"v":1.05},{"t":2002.52,"v":1.35},{"t":2002.6,"v":1.7},{"t":2002.67,"v":1.85},{"t":2002.75,"v":1.55},{"t":2002.81,"v":2.05},{"t":2002.9,"v":2.3},
      {"t":2003.0,"v":2.5},{"t":2003.08,"v":2.75},{"t":2003.15,"v":3.05},{"t":2003.22,"v":3.0},{"t":2003.3,"v":2.2},{"t":2003.4,"v":2.1},{"t":2003.49,"v":2.1},{"t":2003.58,"v":2.15},{"t":2003.67,"v":2.35},{"t":2003.77,"v":2.05},{"t":2003.86,"v":1.75},{"t":2003.95,"v":1.95},
      {"t":2004.04,"v":1.9},{"t":2004.14,"v":1.7},{"t":2004.23,"v":2.0},{"t":2004.31,"v":2.9},{"t":2004.39,"v":3.15},{"t":2004.46,"v":3.3},{"t":2004.53,"v":2.9},{"t":2004.63,"v":2.7},{"t":2004.7,"v":2.5},{"t":2004.78,"v":3.05},{"t":2004.885,"v":3.55},{"t":2004.965,"v":3.15},
      {"t":2005.06,"v":3.0},{"t":2005.15,"v":3.15},{"t":2005.24,"v":3.2},{"t":2005.3,"v":3.5},{"t":2005.4,"v":2.8},{"t":2005.46,"v":2.55},{"t":2005.54,"v":3.15},{"t":2005.61,"v":3.75},{"t":2005.7,"v":4.7},{"t":2005.8,"v":4.35},{"t":2005.87,"v":3.5},{"t":2005.97,"v":3.45},
      {"t":2006.04,"v":4.0},{"t":2006.13,"v":3.5},{"t":2006.21,"v":3.4},{"t":2006.29,"v":3.55},{"t":2006.36,"v":4.2},{"t":2006.44,"v":4.35},{"t":2006.52,"v":4.2},{"t":2006.61,"v":3.85},{"t":2006.69,"v":1.95},{"t":2006.77,"v":1.3},{"t":2006.84,"v":2.0},{"t":2006.93,"v":2.5},
      {"t":2007.01,"v":2.2},{"t":2007.1,"v":2.7},{"t":2007.2,"v":2.8},{"t":2007.27,"v":2.75},{"t":2007.37,"v":2.7},{"t":2007.45,"v":2.7},{"t":2007.52,"v":2.5},{"t":2007.61,"v":2.0},{"t":2007.7,"v":3.05},{"t":2007.77,"v":3.6},{"t":2007.84,"v":4.35},{"t":2007.92,"v":4.2},
      {"t":2008.0,"v":4.25},{"t":2008.07,"v":4.1},{"t":2008.17,"v":4.0},{"t":2008.26,"v":3.9},{"t":2008.33,"v":4.15},{"t":2008.41,"v":4.9},{"t":2008.5,"v":5.6},{"t":2008.58,"v":5.5},{"t":2008.66,"v":5.25},{"t":2008.75,"v":4.15},{"t":2008.82,"v":2.45},{"t":2008.9,"v":0.6},
      {"t":2009.0,"v":0.25},{"t":2009.09,"v":0.05},{"t":2009.15,"v":0.25},{"t":2009.23,"v":-0.35},{"t":2009.3,"v":-0.8},{"t":2009.4,"v":-1.3},{"t":2009.48,"v":-1.5},{"t":2009.54,"v":-2.0},{"t":2009.61,"v":-2.05},{"t":2009.67,"v":-1.5},{"t":2009.73,"v":-1.35},{"t":2009.8,"v":-0.1},{"t":2009.86,"v":1.3},{"t":2009.95,"v":2.75},
      {"t":2010.04,"v":2.65},{"t":2010.115,"v":2.35},{"t":2010.21,"v":2.3},{"t":2010.29,"v":2.2},{"t":2010.38,"v":2.1},{"t":2010.44,"v":1.1},{"t":2010.53,"v":1.3},{"t":2010.63,"v":1.25},{"t":2010.72,"v":1.15},{"t":2010.81,"v":1.2},{"t":2010.89,"v":1.25},{"t":2010.965,"v":1.5},
      {"t":2011.06,"v":1.7},{"t":2011.15,"v":2.35},{"t":2011.24,"v":2.9},{"t":2011.33,"v":3.5},{"t":2011.41,"v":3.65},{"t":2011.49,"v":3.65},{"t":2011.58,"v":3.75},{"t":2011.7,"v":3.85},{"t":2011.78,"v":3.65},{"t":2011.86,"v":3.45},{"t":2011.94,"v":3.05},
      {"t":2012.02,"v":2.9},{"t":2012.12,"v":2.85},{"t":2012.21,"v":2.7},{"t":2012.29,"v":2.2},{"t":2012.38,"v":1.7},{"t":2012.45,"v":1.6},{"t":2012.53,"v":1.4},{"t":2012.61,"v":1.75},{"t":2012.7,"v":2.0},{"t":2012.78,"v":2.2},{"t":2012.87,"v":1.8},{"t":2012.95,"v":1.8},
      {"t":2013.04,"v":1.7},{"t":2013.12,"v":2.0},{"t":2013.19,"v":1.5},{"t":2013.29,"v":1.05},{"t":2013.38,"v":1.35},{"t":2013.46,"v":1.75},{"t":2013.52,"v":2.0},{"t":2013.6,"v":1.65},{"t":2013.685,"v":1.3},{"t":2013.78,"v":0.95},{"t":2013.86,"v":1.25},{"t":2013.93,"v":1.6},
      {"t":2014.03,"v":1.5},{"t":2014.1,"v":1.15},{"t":2014.18,"v":1.6},{"t":2014.26,"v":1.85},{"t":2014.35,"v":2.15},{"t":2014.44,"v":2.15},{"t":2014.535,"v":2.1},{"t":2014.63,"v":1.85},{"t":2014.72,"v":1.7},{"t":2014.85,"v":1.4},{"t":2014.93,"v":0.8},
      {"t":2015.03,"v":-0.05},{"t":2015.12,"v":0.0},{"t":2015.21,"v":-0.05},{"t":2015.285,"v":-0.25},{"t":2015.365,"v":-0.05},{"t":2015.46,"v":0.1},{"t":2015.55,"v":0.2},{"t":2015.64,"v":0.25},{"t":2015.73,"v":0.0},{"t":2015.825,"v":0.35},{"t":2015.92,"v":0.65},
      {"t":2016.0,"v":1.1},{"t":2016.06,"v":1.4},{"t":2016.135,"v":1.1},{"t":2016.21,"v":0.9},{"t":2016.29,"v":1.15},{"t":2016.38,"v":1.1},{"t":2016.47,"v":1.0},{"t":2016.565,"v":0.9},{"t":2016.66,"v":1.15},{"t":2016.74,"v":1.5},{"t":2016.81,"v":1.7},{"t":2016.9,"v":1.8},
      {"t":2017.0,"v":2.15},{"t":2017.07,"v":2.55},{"t":2017.15,"v":2.75},{"t":2017.23,"v":2.35},{"t":2017.315,"v":2.0},{"t":2017.395,"v":1.75},{"t":2017.49,"v":1.65},{"t":2017.58,"v":1.8},{"t":2017.67,"v":2.05},{"t":2017.75,"v":2.3},{"t":2017.83,"v":2.15},{"t":2017.92,"v":2.2},
      {"t":2018.01,"v":2.1},{"t":2018.1,"v":2.2},{"t":2018.2,"v":2.4},{"t":2018.29,"v":2.5},{"t":2018.36,"v":2.8},{"t":2018.46,"v":2.9},{"t":2018.55,"v":3.0},{"t":2018.63,"v":2.7},{"t":2018.71,"v":2.3},{"t":2018.78,"v":2.6},{"t":2018.87,"v":2.2},{"t":2018.965,"v":1.65},
      {"t":2019.03,"v":1.7},{"t":2019.12,"v":1.65},{"t":2019.21,"v":1.8},{"t":2019.3,"v":2.05},{"t":2019.39,"v":1.9},{"t":2019.49,"v":1.85},{"t":2019.58,"v":1.85},{"t":2019.67,"v":1.8},{"t":2019.75,"v":1.85},{"t":2019.84,"v":2.15},{"t":2019.92,"v":2.4},
      {"t":2020.01,"v":2.5},{"t":2020.08,"v":2.4},{"t":2020.145,"v":1.75},{"t":2020.21,"v":1.05},{"t":2020.27,"v":0.35},{"t":2020.32,"v":0.25},{"t":2020.38,"v":0.3},{"t":2020.45,"v":0.7},{"t":2020.53,"v":1.25},{"t":2020.61,"v":1.4},{"t":2020.69,"v":1.4},{"t":2020.76,"v":1.3},{"t":2020.84,"v":1.25},{"t":2020.92,"v":1.35},{"t":2020.99,"v":1.4},
      {"t":2021.07,"v":1.6},{"t":2021.15,"v":2.55},{"t":2021.21,"v":3.85},{"t":2021.27,"v":4.8},{"t":2021.35,"v":5.2},{"t":2021.425,"v":5.4},{"t":2021.47,"v":5.4}
    ],
    "jp": [
      {"t":1980.0,"v":5.45},{"t":1980.04,"v":6.45},{"t":1980.12,"v":7.75},{"t":1980.2,"v":7.4},{"t":1980.29,"v":7.9},{"t":1980.37,"v":8.0},{"t":1980.46,"v":8.4},{"t":1980.54,"v":7.5},{"t":1980.62,"v":8.2},{"t":1980.69,"v":8.75},{"t":1980.78,"v":7.5},{"t":1980.86,"v":8.25},{"t":1980.94,"v":7.25},
      {"t":1981.03,"v":7.25},{"t":1981.11,"v":6.25},{"t":1981.18,"v":6.05},{"t":1981.27,"v":5.05},{"t":1981.37,"v":5.05},{"t":1981.46,"v":4.6},{"t":1981.55,"v":4.3},{"t":1981.64,"v":4.05},{"t":1981.7,"v":3.9},{"t":1981.78,"v":4.25},{"t":1981.86,"v":3.8},{"t":1981.94,"v":4.3},
      {"t":1982.01,"v":3.25},{"t":1982.1,"v":3.25},{"t":1982.2,"v":3.05},{"t":1982.28,"v":2.95},{"t":1982.35,"v":2.45},{"t":1982.44,"v":2.3},{"t":1982.54,"v":1.95},{"t":1982.6,"v":3.2},{"t":1982.69,"v":3.2},{"t":1982.78,"v":3.2},{"t":1982.84,"v":2.3},{"t":1982.94,"v":2.05},
      {"t":1983.03,"v":2.1},{"t":1983.1,"v":1.9},{"t":1983.18,"v":2.4},{"t":1983.26,"v":2.05},{"t":1983.34,"v":2.7},{"t":1983.43,"v":2.25},{"t":1983.52,"v":2.2},{"t":1983.6,"v":1.25},{"t":1983.69,"v":1.05},{"t":1983.8,"v":1.6},{"t":1983.89,"v":1.9},{"t":1983.98,"v":1.8},
      {"t":1984.04,"v":1.95},{"t":1984.12,"v":2.8},{"t":1984.2,"v":2.5},{"t":1984.27,"v":2.35},{"t":1984.35,"v":1.9},{"t":1984.44,"v":1.8},{"t":1984.54,"v":2.55},{"t":1984.62,"v":1.95},{"t":1984.7,"v":2.3},{"t":1984.78,"v":2.2},{"t":1984.87,"v":2.5},{"t":1984.95,"v":2.8},
      {"t":1985.03,"v":3.15},{"t":1985.11,"v":1.75},{"t":1985.18,"v":2.0},{"t":1985.26,"v":2.35},{"t":1985.34,"v":1.7},{"t":1985.42,"v":2.4},{"t":1985.49,"v":2.45},{"t":1985.55,"v":2.7},{"t":1985.61,"v":3.1},{"t":1985.69,"v":1.6},{"t":1985.77,"v":1.8},{"t":1985.85,"v":1.65},{"t":1985.92,"v":1.45},
      {"t":1986.01,"v":1.45},{"t":1986.11,"v":1.75},{"t":1986.2,"v":1.1},{"t":1986.28,"v":0.95},{"t":1986.35,"v":1.15},{"t":1986.44,"v":0.6},{"t":1986.54,"v":0.1},{"t":1986.62,"v":0.1},{"t":1986.69,"v":0.45},{"t":1986.77,"v":-0.35},{"t":1986.84,"v":0.05},{"t":1986.92,"v":-0.3},
      {"t":1987.03,"v":-1.05},{"t":1987.12,"v":-0.95},{"t":1987.2,"v":-0.6},{"t":1987.27,"v":0.1},{"t":1987.37,"v":0.1},{"t":1987.45,"v":0.35},{"t":1987.53,"v":0.1},{"t":1987.61,"v":0.4},{"t":1987.71,"v":0.85},{"t":1987.8,"v":0.7},{"t":1987.89,"v":0.75},{"t":1987.98,"v":0.9},
      {"t":1988.04,"v":0.95},{"t":1988.14,"v":0.75},{"t":1988.23,"v":0.7},{"t":1988.31,"v":0.4},{"t":1988.38,"v":0.1},{"t":1988.47,"v":0.3},{"t":1988.55,"v":0.55},{"t":1988.63,"v":0.7},{"t":1988.7,"v":0.65},{"t":1988.78,"v":1.2},{"t":1988.87,"v":1.15},{"t":1988.97,"v":1.05},
      {"t":1989.06,"v":1.05},{"t":1989.15,"v":0.95},{"t":1989.24,"v":1.15},{"t":1989.32,"v":2.65},{"t":1989.42,"v":3.0},{"t":1989.52,"v":3.05},{"t":1989.61,"v":2.55},{"t":1989.71,"v":2.7},{"t":1989.8,"v":2.85},{"t":1989.87,"v":2.3},{"t":1989.95,"v":2.9},
      {"t":1990.03,"v":3.15},{"t":1990.12,"v":3.85},{"t":1990.2,"v":3.6},{"t":1990.28,"v":2.75},{"t":1990.35,"v":2.65},{"t":1990.44,"v":2.45},{"t":1990.53,"v":2.3},{"t":1990.61,"v":2.8},{"t":1990.69,"v":2.85},{"t":1990.77,"v":3.1},{"t":1990.84,"v":4.0},{"t":1990.92,"v":3.7},
      {"t":1991.0,"v":3.9},{"t":1991.08,"v":3.6},{"t":1991.16,"v":3.7},{"t":1991.24,"v":3.45},{"t":1991.33,"v":3.4},{"t":1991.43,"v":3.4},{"t":1991.52,"v":3.55},{"t":1991.61,"v":3.15},{"t":1991.69,"v":2.65},{"t":1991.77,"v":2.55},{"t":1991.84,"v":2.85},{"t":1991.92,"v":2.7},
      {"t":1992.0,"v":1.8},{"t":1992.07,"v":1.95},{"t":1992.17,"v":2.05},{"t":1992.25,"v":2.45},{"t":1992.32,"v":2.1},{"t":1992.41,"v":2.35},{"t":1992.49,"v":1.65},{"t":1992.57,"v":1.6},{"t":1992.66,"v":2.1},{"t":1992.74,"v":1.15},{"t":1992.81,"v":0.75},{"t":1992.89,"v":0.7},{"t":1992.97,"v":1.15},
      {"t":1993.05,"v":1.3},{"t":1993.12,"v":1.45},{"t":1993.21,"v":1.0},{"t":1993.29,"v":0.8},{"t":1993.37,"v":0.8},{"t":1993.46,"v":0.8},{"t":1993.54,"v":2.05},{"t":1993.62,"v":1.75},{"t":1993.7,"v":1.35},{"t":1993.8,"v":1.15},{"t":1993.87,"v":0.95},{"t":1993.95,"v":1.1},
      {"t":1994.03,"v":1.3},{"t":1994.1,"v":1.25},{"t":1994.18,"v":1.35},{"t":1994.26,"v":0.95},{"t":1994.34,"v":0.8},{"t":1994.42,"v":0.6},{"t":1994.5,"v":-0.15},{"t":1994.58,"v":-0.05},{"t":1994.67,"v":0.25},{"t":1994.75,"v":0.8},{"t":1994.83,"v":1.05},{"t":1994.98,"v":0.9},
      {"t":1995.06,"v":0.7},{"t":1995.14,"v":0.1},{"t":1995.21,"v":-0.3},{"t":1995.3,"v":-0.2},{"t":1995.38,"v":-0.1},{"t":1995.46,"v":0.25},{"t":1995.53,"v":0.05},{"t":1995.61,"v":-0.2},{"t":1995.69,"v":0.1},{"t":1995.77,"v":-0.7},{"t":1995.86,"v":-0.7},{"t":1995.95,"v":-0.4},
      {"t":1996.04,"v":-0.5},{"t":1996.12,"v":-0.35},{"t":1996.21,"v":-0.05},{"t":1996.29,"v":0.25},{"t":1996.37,"v":0.25},{"t":1996.44,"v":0.0},{"t":1996.52,"v":0.45},{"t":1996.6,"v":0.25},{"t":1996.69,"v":0.0},{"t":1996.76,"v":0.5},{"t":1996.84,"v":0.55},{"t":1996.93,"v":0.65},
      {"t":1997.03,"v":0.65},{"t":1997.12,"v":0.65},{"t":1997.21,"v":0.55},{"t":1997.27,"v":1.95},{"t":1997.37,"v":2.0},{"t":1997.43,"v":2.15},{"t":1997.5,"v":2.0},{"t":1997.58,"v":2.0},{"t":1997.67,"v":2.3},{"t":1997.77,"v":2.55},{"t":1997.86,"v":2.1},{"t":1997.95,"v":1.85},
      {"t":1998.03,"v":1.95},{"t":1998.1,"v":2.0},{"t":1998.2,"v":2.3},{"t":1998.26,"v":0.6},{"t":1998.35,"v":0.55},{"t":1998.44,"v":0.2},{"t":1998.52,"v":-0.1},{"t":1998.61,"v":-0.35},{"t":1998.69,"v":-0.2},{"t":1998.77,"v":0.3},{"t":1998.84,"v":0.8},{"t":1998.93,"v":0.6},
      {"t":1999.03,"v":0.25},{"t":1999.12,"v":-0.1},{"t":1999.2,"v":-0.4},{"t":1999.29,"v":-0.1},{"t":1999.37,"v":-0.4},{"t":1999.46,"v":-0.25},{"t":1999.53,"v":0.0},{"t":1999.61,"v":0.3},{"t":1999.7,"v":-0.35},{"t":1999.8,"v":-0.9},{"t":1999.9,"v":-1.15},{"t":1999.98,"v":-0.95},
      {"t":2000.04,"v":-0.7},{"t":2000.13,"v":-0.55},{"t":2000.21,"v":-0.45},{"t":2000.29,"v":-0.75},{"t":2000.38,"v":-0.65},{"t":2000.47,"v":-0.55},{"t":2000.57,"v":-0.45},{"t":2000.64,"v":-0.45},{"t":2000.72,"v":-0.9},{"t":2000.8,"v":-1.1},{"t":2000.87,"v":-0.7},{"t":2000.97,"v":-0.35},
      {"t":2001.05,"v":-0.3},{"t":2001.12,"v":-0.35},{"t":2001.19,"v":-0.7},{"t":2001.29,"v":-0.7},{"t":2001.37,"v":-0.7},{"t":2001.46,"v":-0.8},{"t":2001.55,"v":-0.75},{"t":2001.62,"v":-0.7},{"t":2001.7,"v":-0.8},{"t":2001.8,"v":-0.8},{"t":2001.89,"v":-1.05},{"t":2001.98,"v":-1.3},
      {"t":2002.05,"v":-1.45},{"t":2002.12,"v":-1.65},{"t":2002.2,"v":-1.25},{"t":2002.29,"v":-1.05},{"t":2002.36,"v":-0.9},{"t":2002.46,"v":-0.7},{"t":2002.53,"v":-0.8},{"t":2002.63,"v":-0.7},{"t":2002.71,"v":-0.6},{"t":2002.78,"v":-0.9},{"t":2002.85,"v":-0.35},{"t":2002.93,"v":-0.3},
      {"t":2003.01,"v":-0.35},{"t":2003.09,"v":-0.2},{"t":2003.18,"v":-0.05},{"t":2003.26,"v":-0.1},{"t":2003.34,"v":-0.2},{"t":2003.43,"v":-0.35},{"t":2003.51,"v":-0.2},{"t":2003.59,"v":-0.3},{"t":2003.67,"v":-0.2},{"t":2003.77,"v":0.0},{"t":2003.86,"v":-0.45},{"t":2003.94,"v":-0.4},
      {"t":2004.02,"v":-0.3},{"t":2004.1,"v":0.0},{"t":2004.18,"v":-0.2},{"t":2004.27,"v":-0.35},{"t":2004.35,"v":-0.45},{"t":2004.43,"v":0.0},{"t":2004.5,"v":-0.05},{"t":2004.58,"v":-0.2},{"t":2004.66,"v":-0.05},{"t":2004.72,"v":0.2},{"t":2004.8,"v":0.6},{"t":2004.885,"v":0.9},{"t":2004.965,"v":0.25},
      {"t":2005.06,"v":0.2},{"t":2005.15,"v":-0.05},{"t":2005.23,"v":0.05},{"t":2005.32,"v":0.1},{"t":2005.4,"v":0.05},{"t":2005.46,"v":-0.5},{"t":2005.55,"v":-0.3},{"t":2005.64,"v":-0.3},{"t":2005.72,"v":-0.45},{"t":2005.8,"v":-0.8},{"t":2005.87,"v":-1.0},{"t":2005.95,"v":-0.4},
      {"t":2006.04,"v":-0.05},{"t":2006.13,"v":-0.1},{"t":2006.23,"v":-0.1},{"t":2006.32,"v":0.05},{"t":2006.4,"v":0.35},{"t":2006.47,"v":0.5},{"t":2006.53,"v":0.35},{"t":2006.61,"v":0.95},{"t":2006.69,"v":0.6},{"t":2006.78,"v":0.35},{"t":2006.87,"v":0.3},{"t":2006.96,"v":0.25},
      {"t":2007.04,"v":0.0},{"t":2007.12,"v":-0.2},{"t":2007.21,"v":-0.05},{"t":2007.3,"v":0.0},{"t":2007.38,"v":-0.05},{"t":2007.46,"v":-0.2},{"t":2007.52,"v":0.0},{"t":2007.61,"v":-0.2},{"t":2007.69,"v":-0.2},{"t":2007.77,"v":0.3},{"t":2007.86,"v":0.65},{"t":2007.95,"v":0.7},
      {"t":2008.04,"v":0.8},{"t":2008.13,"v":1.1},{"t":2008.2,"v":1.25},{"t":2008.26,"v":1.0},{"t":2008.35,"v":1.45},{"t":2008.44,"v":2.05},{"t":2008.53,"v":2.3},{"t":2008.61,"v":2.1},{"t":2008.69,"v":2.1},{"t":2008.76,"v":1.8},{"t":2008.84,"v":1.15},{"t":2008.92,"v":0.6},
      {"t":2009.01,"v":0.35},{"t":2009.09,"v":0.15},{"t":2009.18,"v":0.05},{"t":2009.27,"v":-0.4},{"t":2009.35,"v":-0.95},{"t":2009.44,"v":-1.5},{"t":2009.52,"v":-2.15},{"t":2009.61,"v":-2.15},{"t":2009.7,"v":-2.15},{"t":2009.8,"v":-2.5},{"t":2009.86,"v":-2.3},{"t":2009.95,"v":-1.75},
      {"t":2010.04,"v":-1.0},{"t":2010.13,"v":-0.7},{"t":2010.225,"v":-0.75},{"t":2010.32,"v":-0.75},{"t":2010.41,"v":-0.7},{"t":2010.5,"v":-0.8},{"t":2010.595,"v":-1.1},{"t":2010.69,"v":-0.9},{"t":2010.77,"v":-0.2},{"t":2010.84,"v":-0.3},{"t":2010.93,"v":-0.35},
      {"t":2011.01,"v":-0.5},{"t":2011.1,"v":-0.55},{"t":2011.18,"v":-0.55},{"t":2011.27,"v":-0.4},{"t":2011.365,"v":-0.4},{"t":2011.46,"v":-0.3},{"t":2011.55,"v":0.25},{"t":2011.63,"v":0.25},{"t":2011.7,"v":0.0},{"t":2011.795,"v":-0.25},{"t":2011.875,"v":-0.5},{"t":2011.95,"v":-0.05},
      {"t":2012.04,"v":0.2},{"t":2012.135,"v":0.4},{"t":2012.23,"v":0.55},{"t":2012.32,"v":0.3},{"t":2012.41,"v":-0.1},{"t":2012.5,"v":-0.45},{"t":2012.595,"v":-0.35},{"t":2012.69,"v":-0.3},{"t":2012.78,"v":-0.35},{"t":2012.86,"v":-0.1},{"t":2012.945,"v":-0.2},
      {"t":2013.025,"v":-0.4},{"t":2013.12,"v":-0.75},{"t":2013.21,"v":-0.95},{"t":2013.3,"v":-0.7},{"t":2013.38,"v":-0.1},{"t":2013.475,"v":0.6},{"t":2013.55,"v":0.8},{"t":2013.64,"v":0.95},{"t":2013.73,"v":1.15},{"t":2013.83,"v":1.45},{"t":2013.92,"v":1.7},
      {"t":2014.01,"v":1.55},{"t":2014.1,"v":1.75},{"t":2014.18,"v":2.4},{"t":2014.26,"v":3.35},{"t":2014.32,"v":3.7},{"t":2014.38,"v":3.8},{"t":2014.46,"v":3.7},{"t":2014.535,"v":3.55},{"t":2014.63,"v":3.4},{"t":2014.705,"v":3.35},{"t":2014.78,"v":3.05},{"t":2014.85,"v":2.4},{"t":2014.93,"v":2.35},
      {"t":2015.03,"v":2.5},{"t":2015.1,"v":2.3},{"t":2015.2,"v":2.2},{"t":2015.27,"v":0.8},{"t":2015.35,"v":0.6},{"t":2015.43,"v":0.55},{"t":2015.52,"v":0.4},{"t":2015.61,"v":0.25},{"t":2015.7,"v":0.35},{"t":2015.795,"v":0.45},{"t":2015.875,"v":0.35},{"t":2015.95,"v":0.25},
      {"t":2016.04,"v":-0.05},{"t":2016.12,"v":0.25},{"t":2016.195,"v":0.0},{"t":2016.29,"v":-0.3},{"t":2016.37,"v":-0.4},{"t":2016.45,"v":-0.35},{"t":2016.53,"v":-0.5},{"t":2016.63,"v":-0.55},{"t":2016.72,"v":-0.55},{"t":2016.78,"v":0.3},{"t":2016.84,"v":0.55},{"t":2016.92,"v":0.55},
      {"t":2017.01,"v":0.8},{"t":2017.09,"v":0.55},{"t":2017.18,"v":0.55},{"t":2017.27,"v":0.65},{"t":2017.35,"v":0.7},{"t":2017.44,"v":0.6},{"t":2017.54,"v":0.75},{"t":2017.62,"v":0.9},{"t":2017.7,"v":1.05},{"t":2017.78,"v":0.55},{"t":2017.86,"v":0.8},{"t":2017.93,"v":1.3},
      {"t":2018.01,"v":1.4},{"t":2018.1,"v":1.5},{"t":2018.18,"v":1.6},{"t":2018.26,"v":0.9},{"t":2018.35,"v":0.95},{"t":2018.44,"v":1.0},{"t":2018.52,"v":1.15},{"t":2018.61,"v":1.3},{"t":2018.69,"v":1.25},{"t":2018.78,"v":1.4},{"t":2018.87,"v":0.7},{"t":2018.965,"v":0.6},
      {"t":2019.025,"v":0.3},{"t":2019.12,"v":0.25},{"t":2019.21,"v":0.35},{"t":2019.3,"v":0.95},{"t":2019.39,"v":0.8},{"t":2019.49,"v":0.65},{"t":2019.58,"v":0.25},{"t":2019.67,"v":0.25},{"t":2019.76,"v":0.25},{"t":2019.855,"v":0.6},{"t":2019.95,"v":0.8},
      {"t":2020.04,"v":0.65},{"t":2020.13,"v":0.45},{"t":2020.225,"v":0.25},{"t":2020.32,"v":0.05},{"t":2020.39,"v":0.0},{"t":2020.47,"v":0.3},{"t":2020.56,"v":0.35},{"t":2020.64,"v":0.25},{"t":2020.7,"v":0.05},{"t":2020.78,"v":-0.1},{"t":2020.86,"v":-0.8},{"t":2020.945,"v":-1.15},
      {"t":2021.01,"v":-0.65},{"t":2021.09,"v":-0.4},{"t":2021.17,"v":-0.1},{"t":2021.25,"v":-0.45},{"t":2021.33,"v":-0.2},{"t":2021.41,"v":0.1},{"t":2021.47,"v":0.25}
    ],
    "labels": [
      {"name": "United Kingdom", "t": 1981.35, "v": 17.55},
      {"name": "Euro Area", "t": 1993.77, "v": 7.68},
      {"name": "United States", "t": 2007.14, "v": 7.68},
      {"name": "Japan", "t": 1990.15, "v": -2.14}
    ]
  },
  "encoding": {
    "x": {
      "field": "t",
      "type": "quantitative",
      "scale": {"domain": [1980, 2022], "nice": false, "zero": false},
      "axis": null
    },
    "y": {
      "field": "v",
      "type": "quantitative",
      "scale": {"domain": [-5, 20], "nice": false},
      "axis": {
        "values": [-5, 0, 5, 10, 15, 20],
        "domain": false,
        "ticks": false,
        "tickSize": 0,
        "labelPadding": 28,
        "labelFont": "Open Sans",
        "labelFontSize": 29,
        "labelColor": "#222222",
        "grid": true,
        "gridColor": {"condition": {"test": "datum.value === 0", "value": "#7f7f7f"}, "value": "#d9d9d9"},
        "gridWidth": {"condition": {"test": "datum.value === 0", "value": 1.6}, "value": 1.5},
        "title": "Per cent",
        "titleAngle": 0,
        "titleAlign": "left",
        "titleBaseline": "top",
        "titleX": -81,
        "titleY": -58,
        "titleFont": "Open Sans",
        "titleFontSize": 29,
        "titleFontWeight": "normal",
        "titleColor": "#222222"
      }
    }
  },
  "resolve": {"axis": {"x": "independent"}},
  "layer": [
    {
      "data": {"name": "uk"},
      "mark": {"type": "line", "color": "#0a7fd0", "strokeWidth": 4.5, "strokeJoin": "round"},
      "encoding": {
        "x": {
          "field": "t",
          "type": "quantitative",
          "scale": {"domain": [1980, 2022], "nice": false, "zero": false},
          "axis": {
            "orient": "bottom",
            "title": null,
            "values": [1980,1982,1984,1986,1988,1990,1992,1994,1996,1998,2000,2002,2004,2006,2008,2010,2012,2014,2016,2018,2020],
            "grid": false,
            "ticks": false,
            "tickSize": 0,
            "domainColor": "#808080",
            "domainWidth": 1.6,
            "labelExpr": "substring(toString(datum.value), 2, 4)",
            "labelOffset": 27,
            "labelOverlap": false,
            "labelBound": false,
            "labelFlush": false,
            "labelPadding": 21,
            "labelAlign": "center",
            "labelBaseline": "top",
            "labelFont": "Open Sans",
            "labelFontSize": 29,
            "labelColor": "#222222"
          }
        }
      }
    },
    {"data": {"name": "ea"}, "mark": {"type": "line", "color": "#8f2a9c", "strokeWidth": 4.5, "strokeJoin": "round"}},
    {"data": {"name": "us"}, "mark": {"type": "line", "color": "#e3973a", "strokeWidth": 4.5, "strokeJoin": "round"}},
    {
      "data": {"name": "jp"},
      "mark": {"type": "line", "color": "#c73e22", "strokeWidth": 4.5, "strokeJoin": "round"},
      "encoding": {
        "x": {
          "field": "t",
          "type": "quantitative",
          "scale": {"domain": [1980, 2022], "nice": false, "zero": false},
          "axis": {
            "orient": "bottom",
            "offset": -9,
            "title": null,
            "values": [1980,1981,1982,1983,1984,1985,1986,1987,1988,1989,1990,1991,1992,1993,1994,1995,1996,1997,1998,1999,2000,2001,2002,2003,2004,2005,2006,2007,2008,2009,2010,2011,2012,2013,2014,2015,2016,2017,2018,2019,2020,2021,2022],
            "grid": false,
            "domain": false,
            "labels": false,
            "ticks": true,
            "tickSize": 9,
            "tickColor": "#808080",
            "tickWidth": 1.6
          }
        }
      }
    },
    {
      "data": {"name": "labels"},
      "mark": {"type": "text", "align": "left", "baseline": "middle", "font": "Open Sans", "fontSize": 29, "fontWeight": "bold"},
      "encoding": {
        "text": {"field": "name", "type": "nominal"},
        "color": {
          "field": "name",
          "type": "nominal",
          "scale": {"domain": ["United Kingdom", "Euro Area", "United States", "Japan"], "range": ["#0a7fd0", "#8f2a9c", "#e3973a", "#c73e22"]},
          "legend": null
        }
      }
    }
  ]
}
